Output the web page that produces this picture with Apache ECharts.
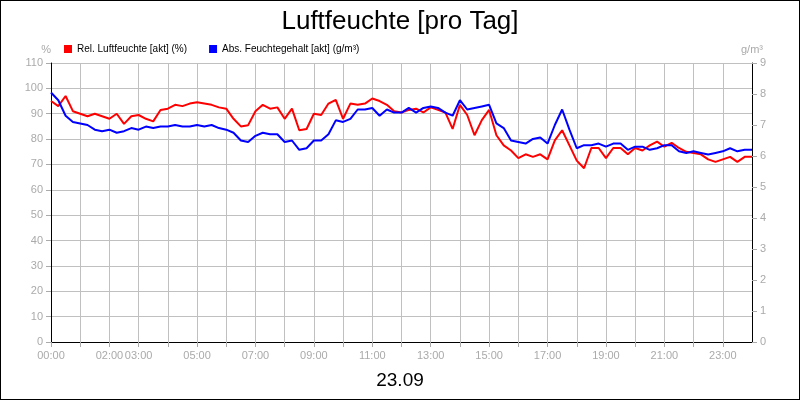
<!DOCTYPE html>
<html><head><meta charset="utf-8">
<script src="https://cdn.jsdelivr.net/npm/echarts@6/dist/echarts.min.js"></script>
<style>html,body{margin:0;padding:0;background:#fff}#c{width:798px;height:398px;border:1px solid #000}</style>
</head><body><div id="c"></div>
<script>
const relHum = [95,93,97,91,90,89,90,89,88,90,86,89,89.5,88,87,91.5,92,93.5,93,94,94.5,94,93.5,92.5,92,88,85,85.5,91,93.5,92,92.5,88,92,83.5,84,90,89.5,94,95.5,88,94,93.5,94,96,95,93.5,91,90.5,91.5,92,90.5,92.5,91.5,90.5,84,93.5,89.5,81.5,87.5,91.5,81.5,77.5,75.5,72.5,74,73,74,72,79.5,83.5,77.5,71.5,68.5,76.5,76.5,72.5,76.5,76.5,74,76.5,75.5,77.5,79,77,78.5,76.5,75,74.5,74,72,71,72,73,71,73,73];
const absHum = [8.05,7.8,7.3,7.1,7.05,7.0,6.85,6.8,6.85,6.75,6.8,6.9,6.85,6.95,6.9,6.95,6.95,7.0,6.95,6.95,7.0,6.95,7.0,6.9,6.85,6.75,6.5,6.45,6.65,6.75,6.7,6.7,6.45,6.5,6.2,6.25,6.5,6.5,6.7,7.15,7.1,7.2,7.5,7.5,7.55,7.3,7.5,7.4,7.4,7.55,7.4,7.55,7.6,7.55,7.4,7.3,7.8,7.5,7.55,7.6,7.65,7.05,6.9,6.5,6.45,6.4,6.55,6.6,6.4,7.0,7.5,6.85,6.25,6.35,6.35,6.4,6.3,6.4,6.4,6.2,6.3,6.3,6.2,6.25,6.35,6.35,6.15,6.1,6.15,6.1,6.05,6.1,6.15,6.25,6.15,6.2,6.2];
const tickLabels = {0:'00:00',2:'02:00',3:'03:00',5:'05:00',7:'07:00',9:'09:00',11:'11:00',13:'13:00',15:'15:00',17:'17:00',19:'19:00',21:'21:00',23:'23:00'};
const times = relHum.map((_, i) => i * 0.25);
const grey = '#aaa';
const chart = echarts.init(document.getElementById('c'));
chart.setOption({
  animation:false,
  title:[{text:'Luftfeuchte [pro Tag]',left:'center',top:3,textStyle:{fontFamily:'Liberation Sans',fontSize:26,fontWeight:'normal',color:'#000'}},
         {text:'23.09',left:'center',top:365,textStyle:{fontFamily:'Liberation Sans',fontSize:19,fontWeight:'normal',color:'#000'}}],
  legend:{left:58,top:38,itemWidth:8,itemHeight:8,itemGap:22,icon:'rect',textStyle:{fontFamily:'Liberation Sans',fontSize:10,color:'#000'},
    data:['Rel. Luftfeuchte [akt] (%)','Abs. Feuchtegehalt [akt] (g/m³)']},
  grid:{left:50,right:47,top:62,bottom:57},
  xAxis:{type:'value',min:0,max:24,interval:1,
    axisLine:{lineStyle:{color:'#000'}},axisTick:{lineStyle:{color:grey}},
    axisLabel:{color:grey,fontSize:11,fontFamily:'Liberation Sans',showMaxLabel:false,formatter:v=>tickLabels[v]||''},
    splitLine:{lineStyle:{color:'#c0c0c0'}}},
  yAxis:[{type:'value',min:0,max:110,interval:10,name:'%',nameGap:8,nameTextStyle:{color:grey,fontSize:11,align:'right',padding:[0,0,0,0]},
    axisLine:{show:true,lineStyle:{color:'#000'}},axisTick:{show:true,lineStyle:{color:grey}},
    axisLabel:{color:grey,fontSize:11,fontFamily:'Liberation Sans'},splitLine:{lineStyle:{color:'#c0c0c0'}}},
   {type:'value',min:0,max:9,interval:1,name:'g/m³',nameGap:8,nameTextStyle:{color:grey,fontSize:11},
    axisLine:{show:true,lineStyle:{color:'#000'}},axisTick:{show:true,lineStyle:{color:grey}},
    axisLabel:{color:grey,fontSize:11,fontFamily:'Liberation Sans'},splitLine:{show:false}}],
  series:[
    {name:'Rel. Luftfeuchte [akt] (%)',type:'line',yAxisIndex:0,showSymbol:false,color:'#ff0000',lineStyle:{width:2},
     data:times.map((t,i)=>[t,relHum[i]])},
    {name:'Abs. Feuchtegehalt [akt] (g/m³)',type:'line',yAxisIndex:1,showSymbol:false,color:'#0000ff',lineStyle:{width:2},
     data:times.map((t,i)=>[t,absHum[i]])}
  ]
});
</script></body></html>
